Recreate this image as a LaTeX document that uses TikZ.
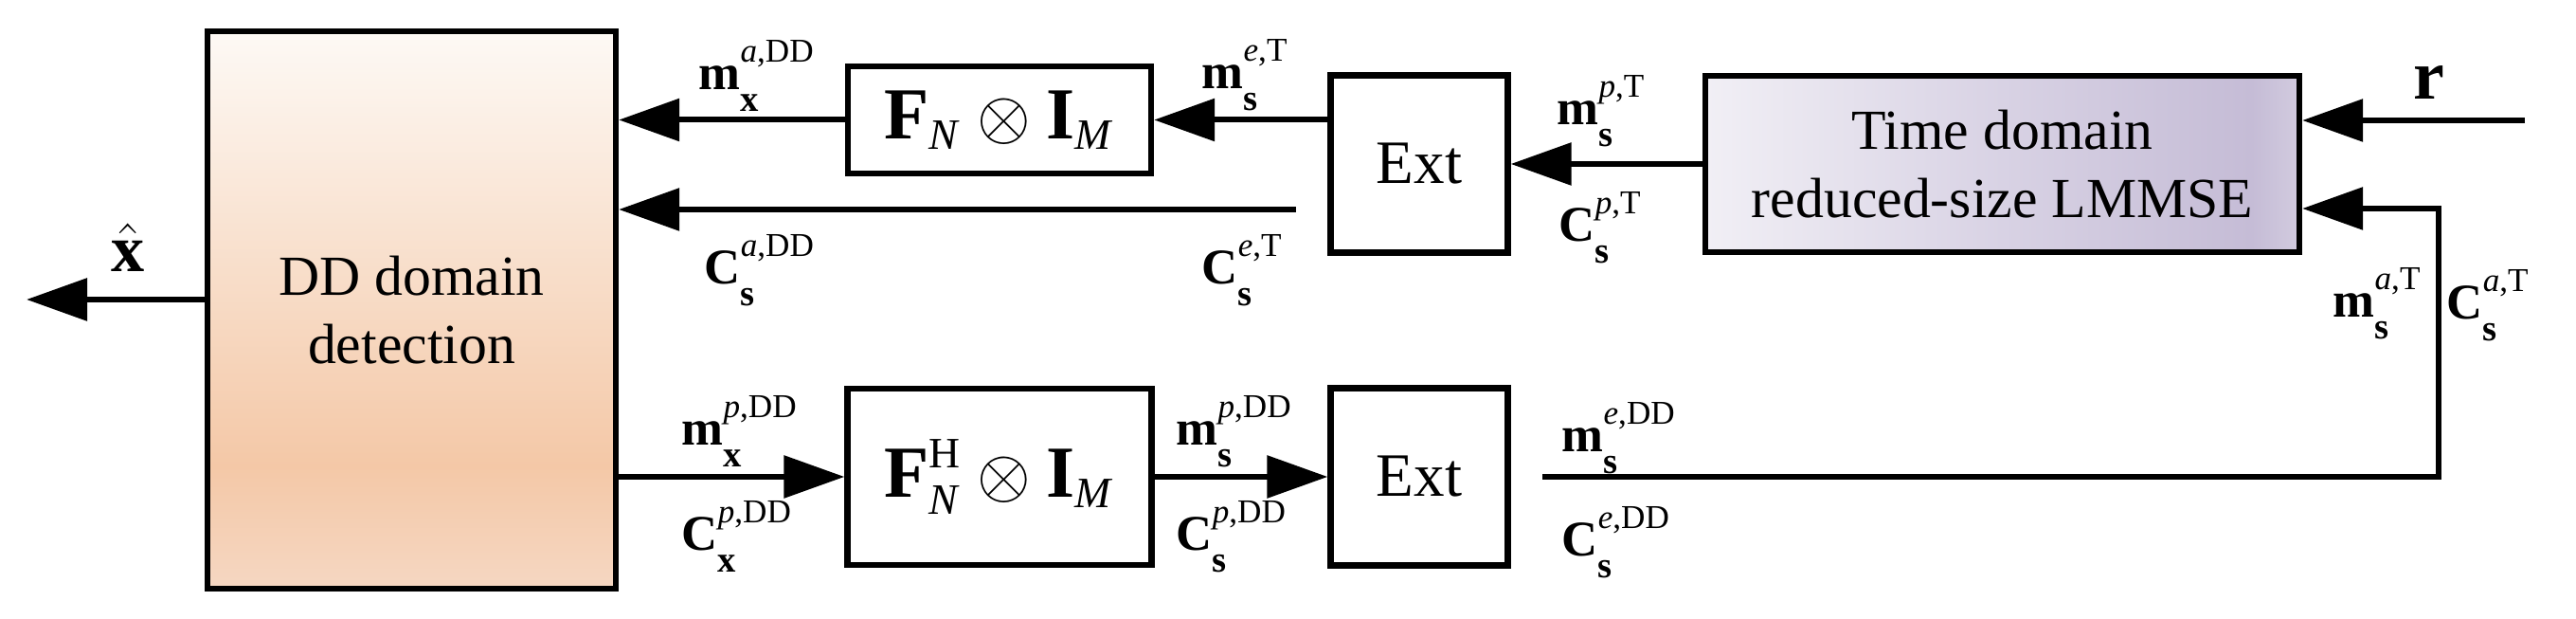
\documentclass[tikz,border=0pt]{standalone}
\usepackage{fontspec,amsmath}
\setmainfont{Liberation Serif}
\usetikzlibrary{arrows.meta}
\definecolor{ddtop}{HTML}{FDF9F5}
\definecolor{ddmid}{HTML}{F4C8A7}
\definecolor{ddbot}{HTML}{F5D7C2}
\definecolor{lmleft}{HTML}{F1EFF5}
\definecolor{lmmid}{HTML}{D8D2E4}
\definecolor{lmright}{HTML}{C5BCD6}
\definecolor{lmedge}{HTML}{D2CBDF}
\pgfdeclareverticalshading{ddshade}{100bp}{color(0bp)=(ddbot); color(25bp)=(ddbot); color(36bp)=(ddmid); color(75bp)=(ddtop); color(100bp)=(ddtop)}
\pgfdeclarehorizontalshading{lmshade}{100bp}{color(0bp)=(lmleft); color(25bp)=(lmleft); color(50bp)=(lmmid); color(71bp)=(lmright); color(75bp)=(lmedge); color(100bp)=(lmedge)}
% bold symbol with bold subscript and superscript
\newcommand{\varlab}[3]{\textbf{#1}\rlap{\raisebox{0.29cm}{\fontsize{10}{10}\selectfont #3}}\raisebox{-0.23cm}{\fontsize{11}{11}\selectfont\textbf{#2}}}

\begin{document}
\begin{tikzpicture}[auto,node distance=4.43cm,
    blk/.style = {draw, line width=1.8pt, align=center, inner sep=0pt},
    lab/.style = {inner sep=0pt, anchor=base west, font=\fontsize{15}{18}\selectfont},
    arr/.style = {line width=1.7pt, -{Triangle[length=0.64cm,width=0.44cm]}}]
                \useasboundingbox (0,0) rectangle (27.19,6.53);
                \node[blk, minimum width=4.31cm, minimum height=5.88cm, shade, shading=ddshade, font=\fontsize{17}{20.6}\selectfont] (det) at (4.345,3.26) {DD domain\\detection};
                \node[blk, minimum width=3.2cm, minimum height=1.13cm, font=\fontsize{22}{26}\selectfont] (fn) at (10.55,5.265) {$\text{\textbf{F}}_{\text{\fontsize{13}{13}\selectfont\textit{N}}}\otimes\text{\textbf{I}}_{\text{\fontsize{13}{13}\selectfont\textit{M}}}$};
                \node[blk, minimum width=3.21cm, minimum height=1.865cm, font=\fontsize{22}{26}\selectfont] (fnh) [below of=fn, node distance=3.765cm] {$\text{\textbf{F}}^{\text{\fontsize{13}{13}\selectfont H}}_{\text{\fontsize{13}{13}\selectfont\textit{N}}}\otimes\text{\textbf{I}}_{\text{\fontsize{13}{13}\selectfont\textit{M}}}$};
                \node[blk, minimum size=1.87cm, font=\fontsize{18.5}{22}\selectfont] (ext2) [right of=fnh] {Ext};
                \node[blk, minimum size=1.87cm, font=\fontsize{18.5}{22}\selectfont] (ext1) [above of=ext2, node distance=3.3cm] {Ext};
                \node[blk, minimum width=6.27cm, minimum height=1.86cm, shade, shading=lmshade, font=\fontsize{17}{20.6}\selectfont] (lmmse) [right of=ext1, node distance=6.155cm] {Time domain\\reduced-size LMMSE};
                % free ends of the connectors
                \coordinate (xhat) at (0.28,3.37);
                \coordinate (cet) at (13.68,4.32);
                \coordinate (rin) at (26.65,5.26);
                \coordinate (emd) at (16.28,1.50);
                \coordinate (fbk) at (25.74,4.33);
                \path[arr]
                    (det.west |- xhat) edge (xhat)
                    (fn.west) edge (det.east |- fn.west)
                    (ext1.west |- fn.east) edge (fn.east)
                    (cet) edge (det.east |- cet)
                    (lmmse.west) edge (ext1.east)
                    (rin) edge (lmmse.east |- rin)
                    (det.east |- fnh.west) edge (fnh.west)
                    (fnh.east) edge (ext2.west);
                \draw[arr] (emd) -| (fbk) -- (lmmse.east |- fbk);
                % labels
                \node[lab, font=\fontsize{20}{24}\selectfont] (xh) at (1.17,3.66) {$\hat{\text{\textbf{x}}}$};
                \node[lab, font=\fontsize{21}{25}\selectfont] (r) at (25.47,5.48) {\textbf{r}};
                \node[lab] (mxa) at (7.37,5.58) {\varlab{m}{x}{\textit{a},DD}};
                \node[lab] (csa) at (7.43,3.53) {\varlab{C}{s}{\textit{a},DD}};
                \node[lab] (mse) at (12.68,5.59) {\varlab{m}{s}{\textit{e},T}};
                \node[lab] (cse) at (12.68,3.53) {\varlab{C}{s}{\textit{e},T}};
                \node[lab] (mxp) at (7.19,1.83) {\varlab{m}{x}{\textit{p},DD}};
                \node[lab] (cxp) at (7.19,0.72) {\varlab{C}{x}{\textit{p},DD}};
                \node[lab] (msp) at (12.41,1.83) {\varlab{m}{s}{\textit{p},DD}};
                \node[lab] (csp) at (12.41,0.72) {\varlab{C}{s}{\textit{p},DD}};
                \node[lab] (mspt) at (16.43,5.21) {\varlab{m}{s}{\textit{p},T}};
                \node[lab] (cspt) at (16.45,3.98) {\varlab{C}{s}{\textit{p},T}};
                \node[lab] (msed) at (16.48,1.76) {\varlab{m}{s}{\textit{e},DD}};
                \node[lab] (csed) at (16.48,0.66) {\varlab{C}{s}{\textit{e},DD}};
                \node[lab] (msat) at (24.62,3.18) {\varlab{m}{s}{\textit{a},T}};
                \node[lab] (csat) at (25.82,3.16) {\varlab{C}{s}{\textit{a},T}};
\end{tikzpicture}
\end{document}
